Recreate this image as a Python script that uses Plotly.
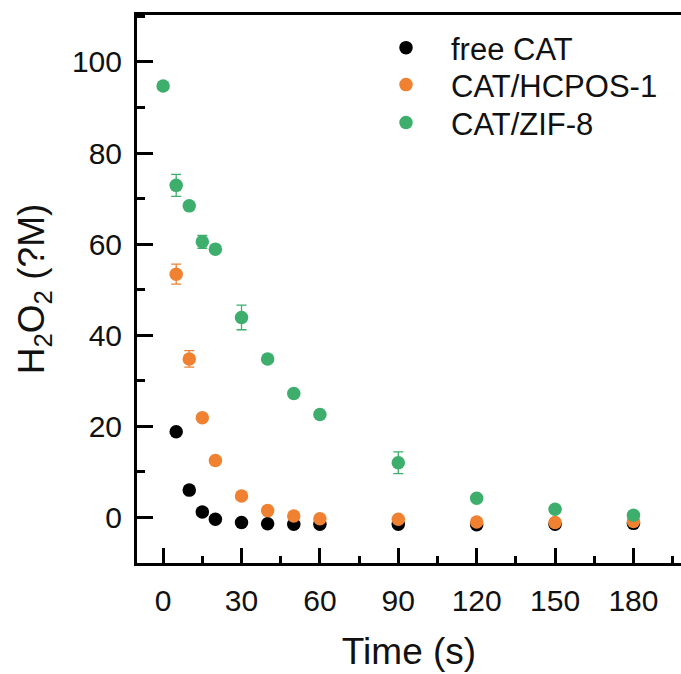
import plotly.graph_objects as go

time_s = [0, 5, 10, 15, 20, 30, 40, 50, 60, 90, 120, 150, 180]

free_cat = [None, 18.8, 6.0, 1.2, -0.4, -1.1, -1.4, -1.5, -1.5, -1.5, -1.6, -1.5, -1.3]
free_cat_err = [0.3, 0.3, 0.3, 0.3, 0.3, 0.3, 0.3, 0.3, 0.3, 0.3, 0.3, 0.3, 0.3]

hcpos = [None, 53.4, 34.8, 21.9, 12.5, 4.7, 1.5, 0.3, -0.3, -0.4, -1.0, -1.1, -0.9]
hcpos_err = [0.5, 2.2, 1.8, 0.8, 0.7, 0.4, 0.4, 0.4, 0.5, 0.5, 0.5, 0.5, 0.5]

zif8 = [94.7, 72.9, 68.4, 60.5, 58.9, 43.9, 34.8, 27.2, 22.6, 12.0, 4.2, 1.8, 0.5]
zif8_err = [0.5, 2.4, 0.8, 1.4, 0.5, 2.7, 0.5, 0.5, 0.5, 2.4, 0.5, 0.6, 0.8]

names = ["free CAT", "CAT/HCPOS-1", "CAT/ZIF-8"]
colors = ["#000000", "#EF8131", "#3DAE6B"]

x_ticks = [0, 30, 60, 90, 120, 150, 180]
y_ticks = [0, 20, 40, 60, 80, 100]

font_family = "Liberation Sans, Arial, sans-serif"
legend_ids = ["legend", "legend2", "legend3"]
legend_rows_px = [48, 85, 123]

fig = go.Figure()
for i, (ys, es) in enumerate([(free_cat, free_cat_err), (hcpos, hcpos_err), (zif8, zif8_err)]):
    fig.add_trace(go.Scatter(
        x=time_s, y=ys, mode="markers", name=names[i], legend=legend_ids[i],
        marker=dict(color=colors[i], size=13.5, line=dict(width=0)),
        error_y=dict(type="data", array=es, visible=True, color=colors[i],
                     thickness=1.3, width=5),
    ))

axis_common = dict(
    showline=True, linecolor="black", linewidth=3,
    ticks="inside", tickcolor="black", tickwidth=3,
    showgrid=False, zeroline=False,
    tickfont=dict(family=font_family, size=30, color="#111111"),
)

legend_layout = {}
for i, lid in enumerate(legend_ids):
    legend_layout[lid] = dict(
        x=(361 - 137) / 544, y=1 - (legend_rows_px[i] - 15) / 548.3,
        xanchor="left", yanchor="middle",
        bgcolor="rgba(0,0,0,0)", borderwidth=0,
        font=dict(family=font_family, size=31, color="#111111"),
        itemwidth=80,
    )

fig.update_layout(
    width=681, height=674,
    margin=dict(l=137, r=0, t=15, b=111),
    plot_bgcolor="white", paper_bgcolor="white",
    font=dict(family=font_family, color="#111111"),
    xaxis=dict(
        range=[-10, 198.2], tickvals=x_ticks, ticklen=15, mirror=True,
        minor=dict(tickvals=[15, 45, 75, 105, 135, 165, 195], ticklen=7,
                   tickwidth=3, tickcolor="black", ticks="inside"),
        ticklabelstandoff=9,
        title=dict(text="Time (s)", standoff=23,
                   font=dict(family=font_family, size=37, color="#111111")),
        **axis_common,
    ),
    yaxis=dict(
        range=[-10, 110.3], tickvals=y_ticks, ticklen=16, mirror=False,
        minor=dict(tickvals=[-10, 10, 30, 50, 70, 90, 110], ticklen=8,
                   tickwidth=3, tickcolor="black", ticks="inside"),
        ticklabelstandoff=6,
        title=dict(text="H<sub>2</sub>O<sub>2</sub> (?M)", standoff=16,
                   font=dict(family=font_family, size=37, color="#111111")),
        **axis_common,
    ),
    showlegend=True,
    **legend_layout,
)

fig.write_html("out.html")
